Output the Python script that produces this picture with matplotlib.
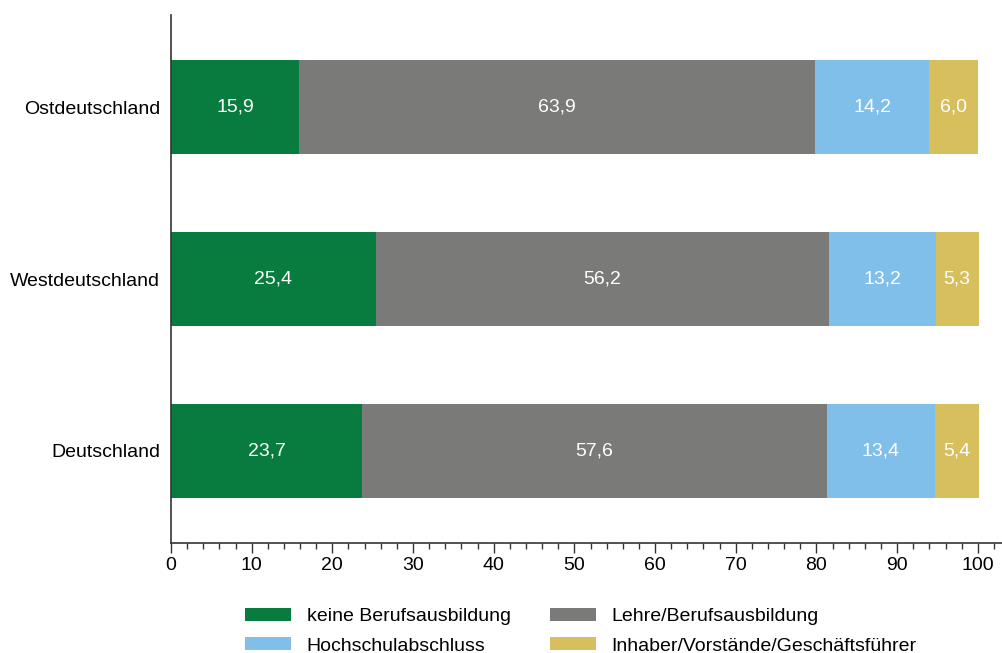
import matplotlib
matplotlib.use('Agg')
import matplotlib.pyplot as plt
import numpy as np
from matplotlib.ticker import MultipleLocator

plt.rcParams['font.family'] = ['Liberation Sans', 'DejaVu Sans']

regions = ['Deutschland', 'Westdeutschland', 'Ostdeutschland']
keine = [23.7, 25.4, 15.9]
lehre = [57.6, 56.2, 63.9]
hochschule = [13.4, 13.2, 14.2]
inhaber = [5.4, 5.3, 6.0]

series = [
    ('keine Berufsausbildung', keine, '#077c3e'),
    ('Lehre/Berufsausbildung', lehre, '#7a7a78'),
    ('Hochschulabschluss', hochschule, '#7fbfea'),
    ('Inhaber/Vorstände/Geschäftsführer', inhaber, '#d6bf5c'),
]

fig = plt.figure(figsize=(10.02, 6.53), dpi=100)
ax = fig.add_axes([171 / 1002, 110 / 653, 1 - 171 / 1002, 528 / 653])

y = np.arange(len(regions))
left = np.zeros(len(regions))
handles = []
for name, vals, color in series:
    vals = np.array(vals)
    bars = ax.barh(y, vals, left=left, height=0.55, color=color, label=name)
    handles.append(bars)
    for yi, l, v in zip(y, left, vals):
        ax.text(l + v / 2, yi, f'{v:.1f}'.replace('.', ','), ha='center', va='center',
                color='white', fontsize=14)
    left += vals

ax.set_xlim(0, 103)
ax.set_ylim(-0.535, 2.535)
ax.set_yticks(y)
ax.set_yticklabels(regions, fontsize=14)
ax.tick_params(axis='y', length=0, pad=8)
ax.xaxis.set_minor_locator(MultipleLocator(2))
ax.set_xticks(np.arange(0, 101, 10))
ax.tick_params(axis='x', which='major', length=7, width=1, color='#333333', labelsize=14, pad=3)
ax.tick_params(axis='x', which='minor', length=4, width=1, color='#333333')
for s in ['top', 'right']:
    ax.spines[s].set_visible(False)
for s in ['left', 'bottom']:
    ax.spines[s].set_color('#333333')
    ax.spines[s].set_linewidth(1.2)

# legend fills column-wise, so reorder to read row-wise
order = [0, 2, 1, 3]
fig.legend(handles=[handles[i] for i in order], loc='upper left',
           bbox_to_anchor=(245 / 1002, 1 - 608 / 653), ncol=2,
           frameon=False, fontsize=14, handlelength=2.37, handleheight=0.62,
           columnspacing=2.0, labelspacing=0.63, handletextpad=0.8,
           borderpad=0, borderaxespad=0)

fig.savefig('out.png', dpi=100)
